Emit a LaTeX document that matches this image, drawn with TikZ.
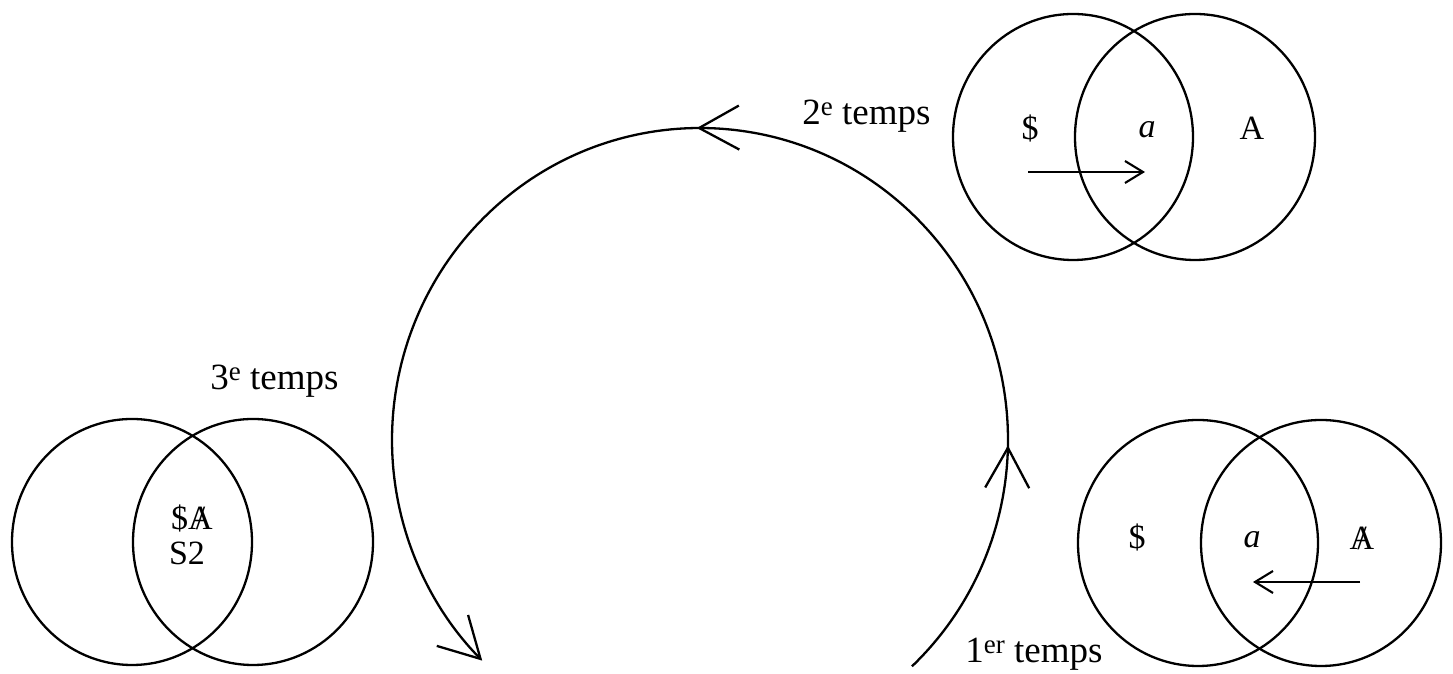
\documentclass[tikz,border=0pt]{standalone}
\usepackage{fontspec}
\setmainfont{Liberation Serif}
\usetikzlibrary{arrows.meta,decorations.markings}
\newcommand{\slA}{\ooalign{A\cr\hidewidth/\hidewidth}}
\newcommand{\supx}[1]{\raisebox{0.55ex}{\fontsize{13.5}{15}\selectfont #1}}
\begin{document}
\begin{tikzpicture}[x=0.5pt,y=0.5pt,
  ring/.style={line width=1.15pt},
  big/.style={line width=1.15pt,>={Straight Barb[length=20pt,width=22pt,line width=1.15pt]}},
  smallarrow/.style={line width=1.05pt,-{Straight Barb[length=9pt,width=11pt,line width=1.05pt]}},
  tlbl/.style={font=\fontsize{18.5}{21}\selectfont,inner sep=0pt},
  vlbl/.style={font=\fontsize{17}{20}\selectfont,inner sep=0pt}]
\useasboundingbox (0,0) rectangle (1453,674);
% ---------- Venn circles
\foreach \n/\x/\y in {tl/1073/537,tr/1195/537,rl/1198/131,rr/1321/131,ll/132/132,lr/253/132}{
  \coordinate (\n) at (\x,\y);
  \draw[ring] (\n) ellipse [x radius=120, y radius=123];
}
% ---------- big cycle arc
\coordinate (cc) at (700,234);
\draw[big,->,
  postaction={decorate},
  decoration={markings,
    mark=at position 0.168 with {\arrow{>}},
    mark=at position 0.505 with {\arrow{>}}}]
  (cc) ++(-46.5:308 and 312) arc [start angle=-46.5, end angle=225, x radius=308, y radius=312];
% ---------- top Venn (2e temps)
\node[vlbl] (t1) at (1030,546) {\$};
\node[vlbl] (t2) at (1147,544) {\textit{a}};
\node[vlbl] (t3) at (1252,546) {A};
\coordinate (ta1) at (1028,502);
\coordinate (ta2) at (1145,502);
\draw[smallarrow] (ta1) -- (ta2);
\node[tlbl,anchor=base west] (lab2) at (802,549) {2\supx{e} temps};
% ---------- bottom right Venn (1er temps)
\node[vlbl] (r1) at (1137,137) {\$};
\node[vlbl] (r2) at (1252,134) {\textit{a}};
\node[vlbl] (r3) at (1362,136) {\slA};
\coordinate (ra1) at (1360,92);
\coordinate (ra2) at (1253,92);
\draw[smallarrow] (ra1) -- (ra2);
\node[tlbl,anchor=base west] (lab1) at (965,11) {1\supx{er} temps};
% ---------- bottom left Venn (3e temps)
\node[vlbl] (l1) at (192,156) {\$\slA};
\node[vlbl] (l2) at (187,121) {S2};
\node[tlbl,anchor=base west] (lab3) at (210,284) {3\supx{e} temps};
\end{tikzpicture}
\end{document}
